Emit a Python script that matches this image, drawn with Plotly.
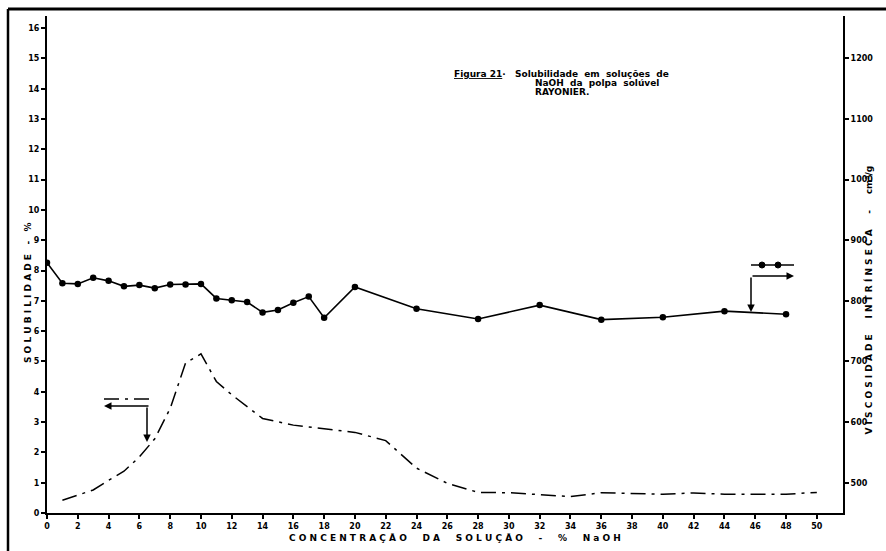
import plotly.graph_objects as go

# Viscosidade intrínseca (cm3/g) - curve with markers, right axis
visc_x = [0, 1, 2, 3, 4, 5, 6, 7, 8, 9, 10, 11, 12, 13, 14, 15, 16, 17, 18, 20, 24, 28, 32, 36, 40, 44, 48]
visc_y = [863, 829, 828, 838, 833, 824, 826, 821, 827, 827, 828, 804, 801, 798, 781, 785, 797, 807, 772,
          823, 787, 770, 793, 769, 773, 783, 778]

# Solubilidade (%) - dash-dot curve, left axis
sol_x = [1, 2, 3, 4, 5, 6, 7, 8, 9, 10, 11, 12, 14, 16, 18, 20, 22, 24, 26, 28, 30, 34, 36, 40, 42, 44, 48, 50]
sol_y = [0.42, 0.58, 0.76, 1.08, 1.38, 1.85, 2.45, 3.45, 4.95, 5.25, 4.34, 3.9, 3.12, 2.9, 2.77, 2.66, 2.39,
         1.48, 0.98, 0.68, 0.67, 0.54, 0.67, 0.62, 0.66, 0.62, 0.62, 0.68]

x_ticks = list(range(0, 51, 2))
left_ticks = list(range(0, 17))
right_ticks = [500, 600, 700, 800, 900, 1000, 1100, 1200]

FONT = "DejaVu Sans"
tickfont = dict(family=FONT, size=8, color="black", weight="bold")
NB = "\u00a0"


def spaced(text, gap=1, word_gap=4):
    words = text.split(" ")
    return (NB * word_gap).join((NB * gap).join(list(w)) for w in words)


fig = go.Figure()
fig.add_trace(go.Scatter(x=sol_x, y=sol_y, mode="lines", yaxis="y",
                         line=dict(color="black", width=1.5, dash="longdashdot"),
                         showlegend=False))
fig.add_trace(go.Scatter(x=visc_x, y=visc_y, mode="lines+markers", yaxis="y2",
                         line=dict(color="black", width=1.6),
                         marker=dict(color="black", size=6.5, symbol="circle"),
                         showlegend=False))

fig.update_layout(
    width=886, height=551,
    margin=dict(l=47, r=43, t=16, b=38),
    paper_bgcolor="white", plot_bgcolor="white",
    xaxis=dict(range=[0, 51.7], tickvals=x_ticks, ticktext=[str(v) for v in x_ticks],
               showline=True, linecolor="black", linewidth=2, ticks="outside", ticklen=4,
               tickcolor="black", tickwidth=2, showgrid=False, zeroline=False,
               tickfont=tickfont),
    yaxis=dict(range=[0, 16.4], tickvals=left_ticks, ticktext=[str(v) for v in left_ticks],
               showline=True, linecolor="black", linewidth=2, ticks="outside", ticklen=4,
               tickcolor="black", tickwidth=1.5, showgrid=False, zeroline=False,
               tickfont=tickfont),
    yaxis2=dict(range=[450, 1270], overlaying="y", side="right",
                tickvals=right_ticks, ticktext=[str(v) for v in right_ticks],
                showline=True, linecolor="black", linewidth=2, ticks="outside", ticklen=4,
                tickcolor="black", tickwidth=1.5, showgrid=False, zeroline=False,
                tickfont=tickfont),
)


def px_x(px):
    return (px - 47) / 796.0


def px_y(py):
    return (513 - py) / 497.0


shapes = []
# page frame
shapes.append(dict(type="line", xref="paper", yref="paper", x0=px_x(8), x1=px_x(886), y0=px_y(9), y1=px_y(9),
                   line=dict(color="black", width=3)))
shapes.append(dict(type="line", xref="paper", yref="paper", x0=px_x(8), x1=px_x(8), y0=px_y(9), y1=px_y(551),
                   line=dict(color="black", width=2.5)))
# left legend glyph (solubility): dash-dot segment
shapes.append(dict(type="line", xref="paper", yref="paper", x0=px_x(104), x1=px_x(150), y0=px_y(399), y1=px_y(399),
                   line=dict(color="black", width=1.5, dash="longdashdot")))
# right legend glyph (viscosity): line with two dots
shapes.append(dict(type="line", xref="paper", yref="paper", x0=px_x(751), x1=px_x(794), y0=px_y(265), y1=px_y(265),
                   line=dict(color="black", width=1.6)))
for cx in (762, 778):
    shapes.append(dict(type="circle", xref="paper", yref="paper", x0=px_x(cx - 3), x1=px_x(cx + 3),
                       y0=px_y(265 + 3), y1=px_y(265 - 3), fillcolor="black", line=dict(color="black", width=1)))
fig.update_layout(shapes=shapes)

ann = []
arrow = dict(showarrow=True, arrowhead=2, arrowsize=1, arrowwidth=1.5, arrowcolor="black", text="",
             xref="paper", yref="paper", axref="pixel", ayref="pixel")
# left legend arrows
ann.append(dict(arrow, x=px_x(104), y=px_y(406), ax=46, ay=0))
ann.append(dict(arrow, x=px_x(147), y=px_y(442), ax=0, ay=-36))
# right legend arrows
ann.append(dict(arrow, x=px_x(794), y=px_y(276), ax=-43, ay=0))
ann.append(dict(arrow, x=px_x(751), y=px_y(312), ax=0, ay=-36))

titlefont = dict(family=FONT, size=9, color="black", weight="bold")
ann.append(dict(text=spaced("SOLUBILIDADE - %", 1, 3), xref="paper", yref="paper",
                x=px_x(21), y=px_y(293), textangle=-90, showarrow=False, font=titlefont))
ann.append(dict(text=spaced("VISCOSIDADE INTRÍNSECA -", 1, 5) + NB * 5 + "cm³/g", xref="paper", yref="paper",
                x=px_x(875), y=px_y(300), textangle=-90, showarrow=False, font=titlefont))
ann.append(dict(text=spaced("CONCENTRAÇÃO DA SOLUÇÃO - % NaOH", 1, 5),
                xref="paper", yref="paper", x=px_x(455), y=px_y(545), showarrow=False, font=titlefont))

capfont = dict(family=FONT, size=9, color="black", weight="bold")
ann.append(dict(text="<u>Figura" + NB + "21</u>·" + NB * 3 + "Solubilidade" + NB * 2 + "em" + NB * 2 +
                "soluções" + NB * 2 + "de",
                xref="paper", yref="paper", x=px_x(452), y=px_y(74), xanchor="left", yanchor="middle",
                showarrow=False, font=capfont))
ann.append(dict(text="NaOH" + NB * 2 + "da" + NB * 2 + "polpa" + NB * 2 + "solúvel",
                xref="paper", yref="paper", x=px_x(533), y=px_y(83), xanchor="left", yanchor="middle",
                showarrow=False, font=capfont))
ann.append(dict(text="RAYONIER.",
                xref="paper", yref="paper", x=px_x(533), y=px_y(92), xanchor="left", yanchor="middle",
                showarrow=False, font=capfont))
fig.update_layout(annotations=ann)

fig.write_html("out.html")
